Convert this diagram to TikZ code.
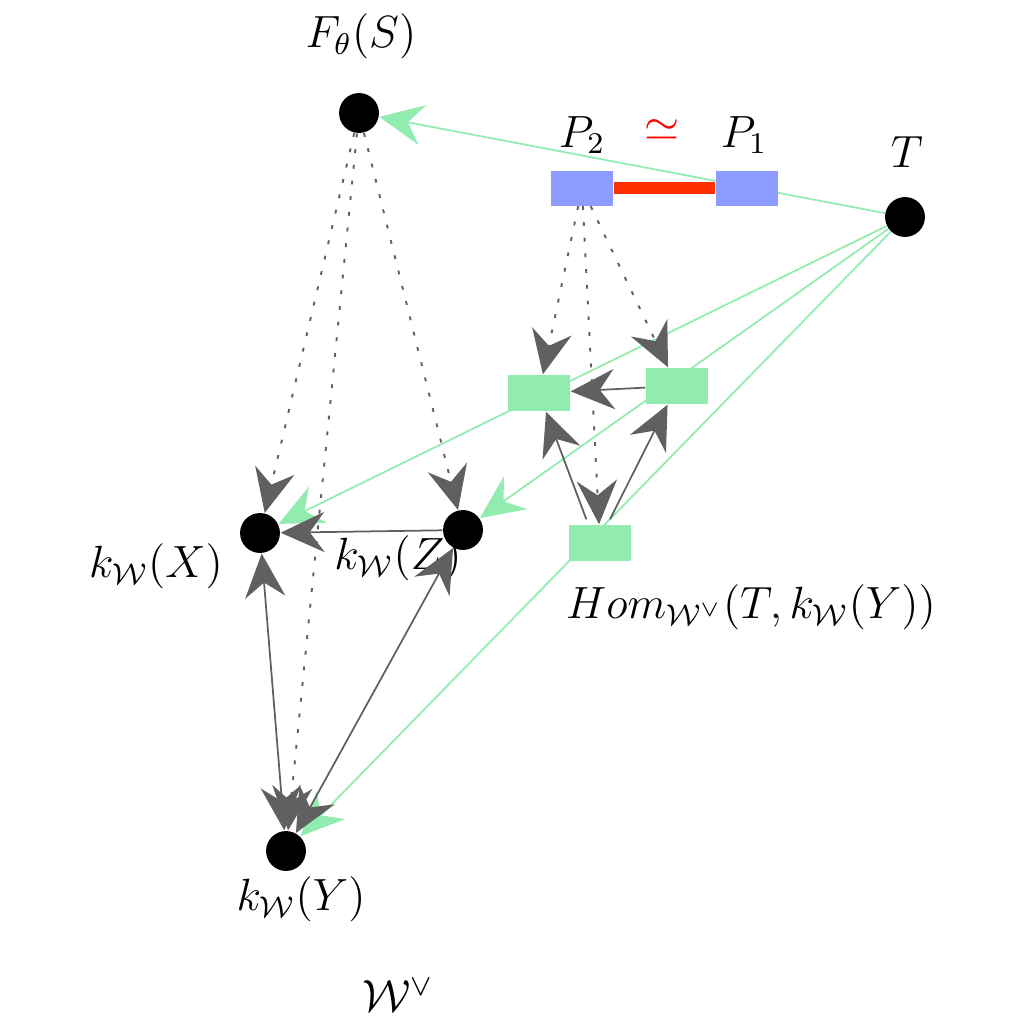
\documentclass[tikz,border=0pt]{standalone}
\usetikzlibrary{arrows.meta,backgrounds}
\definecolor{mintgreen}{RGB}{146,236,176}
\definecolor{periblue}{RGB}{143,156,255}
\definecolor{barred}{RGB}{255,48,0}
\definecolor{arrowgray}{RGB}{96,96,96}
\tikzset{bigtip/.tip={Stealth[length=12.5pt,width=11.5pt,inset=4.2pt]}}
\newcommand{\mlbl}[1]{\scalebox{1.075}{$#1$}}
\begin{document}
\begin{tikzpicture}[x=0.2857pt,y=0.2857pt,yscale=-1,
  obj/.style={circle,fill=black,minimum size=11.4pt,inner sep=0pt},
  pbox/.style={fill=periblue,minimum width=17.7pt,minimum height=10pt,inner sep=0pt},
  gbox/.style={fill=mintgreen,minimum width=17.7pt,minimum height=10.3pt,inner sep=0pt},
  lbl/.style={font=\large,inner sep=0pt},
  garrow/.style={mintgreen,line width=0.5pt,-bigtip},
  karrow/.style={arrowgray,line width=0.5pt,-bigtip},
  dotarrow/.style={karrow,line width=0.55pt,dash pattern=on 1.1pt off 3.4pt}]
\useasboundingbox (0,0) rectangle (1024,1024);

% objects
\node[obj] (F) at (359,113) {};
\node[obj] (T) at (905,217) {};
\node[obj] (X) at (260,533) {};
\node[obj] (Z) at (463,530) {};
\node[obj] (Y) at (286,851) {};

% boxes
\node[pbox] (P2) at (582,188) {};
\node[pbox] (P1) at (747,188) {};
\node[gbox] (A) at (539,393) {};
\node[gbox] (B) at (677,386) {};
\node[gbox] (C) at (600,543) {};

% labels
\node[lbl] (lF) at (361,36) {\mlbl{F_{\theta}(S)}};
\node[lbl] (lT) at (907,152) {\mlbl{T}};
\node[lbl] (lP2) at (582,135) {\mlbl{P_{2}}};
\node[lbl] (lP1) at (744,135) {\mlbl{P_{1}}};
\node[lbl,text=red] (lsim) at (662,130) {\mlbl{\simeq}};
\node[lbl] (lX) at (156,566) {\mlbl{k_{\mathcal{W}}(X)}};
\node[lbl] (lZ) at (398,558) {\mlbl{k_{\mathcal{W}}(Z)}};
\node[lbl] (lY) at (301,899) {\mlbl{k_{\mathcal{W}}(Y)}};
\node[lbl] (lHom) at (751,607) {\mlbl{Hom_{\mathcal{W}^{\vee}}(T,k_{\mathcal{W}}(Y))}};
\node[lbl] (lW) at (398,995) {\mlbl{\mathcal{W}^{\vee}}};

% green maps out of T, under the boxes
\begin{pgfonlayer}{background}
\draw[garrow] (T) -- (F);
\draw[garrow] (T) -- (X);
\draw[garrow] (T) -- (Z);
\draw[garrow] (T) -- (Y);
\end{pgfonlayer}

% equivalence
\draw[barred,line width=3.2pt] (P2) -- (P1);

% solid maps
\draw[karrow] (Z) -- (X);
\draw[karrow,bigtip-bigtip] (X) -- (Y);
\draw[karrow,bigtip-bigtip] (Z) -- (Y);
\draw[karrow] (B) -- (A);
\draw[karrow] (C.north west) ++(18,-5) -- (A);
\draw[karrow] (C.north) ++(10,-5) -- (B);

% dotted maps
\draw[dotarrow] (F) -- (X);
\draw[dotarrow] (F) -- (Z);
\draw[dotarrow] (F) -- (Y);
\draw[dotarrow] (P2) -- (A);
\draw[dotarrow] (P2) -- (B);
\draw[dotarrow] (P2) -- (C);
\end{tikzpicture}
\end{document}
